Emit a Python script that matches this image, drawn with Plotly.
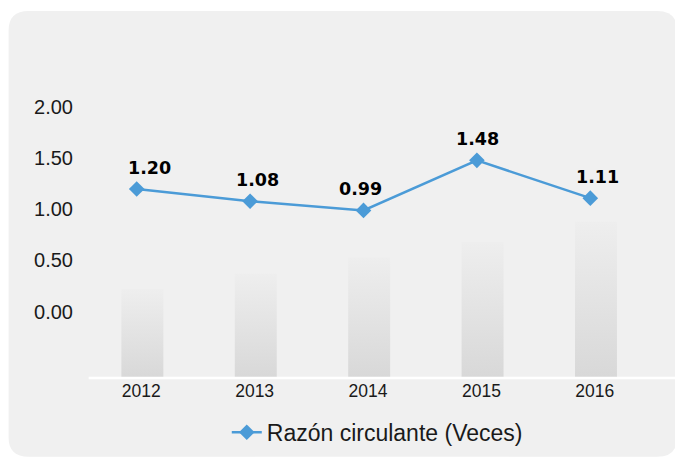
import plotly.graph_objects as go

# ---- data ----
years = ["2012", "2013", "2014", "2015", "2016"]
razon = [1.20, 1.08, 0.99, 1.48, 1.11]
label_text = ["1.20", "1.08", "0.99", "1.48", "1.11"]
deco_heights = [0.22, 0.37, 0.53, 0.68, 0.88]  # decorative faded columns
y_ticks = [0.0, 0.5, 1.0, 1.5, 2.0]
y_tick_text = ["0.00", "0.50", "1.00", "1.50", "2.00"]

# ---- geometry (page pixels) ----
W, H = 675, 466
L, R = 80.35, 646.85
T, B = 51.0, 385.5
YMIN, YMAX = -0.65, 2.55
XMIN, XMAX = -0.5, 4.5


def xp(px):
    return (px - L) / (R - L)


def yp(py):
    return (B - py) / (B - T)


xs = list(range(len(years)))
bar_off = 0.05
bar_w = 0.37
label_xshift = [13, 7, -3, 1, 7]

fig = go.Figure()

# decorative gradient columns
for i, h in zip(xs, deco_heights):
    c = i + bar_off
    fig.add_trace(go.Scatter(
        x=[c - bar_w / 2, c + bar_w / 2, c + bar_w / 2, c - bar_w / 2, c - bar_w / 2],
        y=[YMIN, YMIN, h, h, YMIN],
        mode="none", fill="toself",
        fillgradient=dict(type="vertical",
                          colorscale=[[0, "#d8d8d8"], [1, "#eeeeee"]]),
        hoverinfo="skip", showlegend=False,
    ))

# main line
fig.add_trace(go.Scatter(
    x=xs, y=razon, mode="lines+markers",
    name="Razón circulante (Veces)",
    line=dict(color="#4b9bd7", width=2.5),
    marker=dict(symbol="diamond", size=12, color="#4b9bd7"),
))

# data labels
for i, v, t, dx in zip(xs, razon, label_text, label_xshift):
    fig.add_annotation(
        x=i, y=v, text="<b>" + t + "</b>",
        showarrow=False, xshift=dx, yshift=21,
        font=dict(family="DejaVu Sans", size=17.5, color="#000000"),
    )

# rounded background panel
x0, x1, y0, y1, r = 9, 677, 10, 466, 20
path = (
    f"M {xp(x0 + r)} {yp(y0)} L {xp(x1 - r)} {yp(y0)} "
    f"Q {xp(x1)} {yp(y0)} {xp(x1)} {yp(y0 + r)} "
    f"L {xp(x1)} {yp(y1 - r)} Q {xp(x1)} {yp(y1)} {xp(x1 - r)} {yp(y1)} "
    f"L {xp(x0 + r)} {yp(y1)} Q {xp(x0)} {yp(y1)} {xp(x0)} {yp(y1 - r)} "
    f"L {xp(x0)} {yp(y0 + r)} Q {xp(x0)} {yp(y0)} {xp(x0 + r)} {yp(y0)} Z"
)
fig.add_shape(type="path", path=path, xref="paper", yref="paper",
              fillcolor="#f0f0f0", line=dict(width=0), layer="below")

# white x-axis baseline
fig.add_shape(type="line", xref="paper", yref="paper",
              x0=xp(89), x1=xp(690), y0=0, y1=0,
              line=dict(color="#ffffff", width=2.5), layer="above")

fig.update_layout(
    width=W, height=H,
    margin=dict(l=L, r=W - R, t=T, b=H - B, pad=0),
    paper_bgcolor="#ffffff",
    plot_bgcolor="rgba(0,0,0,0)",
    font=dict(family="Liberation Sans, Arial, sans-serif", color="#1a1a1a"),
    xaxis=dict(range=[XMIN, XMAX], tickmode="array",
               tickvals=[i + 0.04 for i in xs], ticktext=years,
               showgrid=False, zeroline=False, showline=False, ticks="",
               tickfont=dict(size=17.5, color="#1a1a1a"), fixedrange=True),
    yaxis=dict(range=[YMIN, YMAX], tickmode="array",
               tickvals=y_ticks, ticktext=y_tick_text,
               showgrid=False, zeroline=False, showline=False, ticks="",
               ticklabelstandoff=6,
               tickfont=dict(size=20, color="#1a1a1a"), fixedrange=True),
    legend=dict(orientation="h", x=xp(227), xanchor="left",
                y=yp(441), yanchor="middle",
                font=dict(size=23, color="#1a1a1a"),
                bgcolor="rgba(0,0,0,0)"),
    showlegend=True,
)

fig.write_html(
    "out.html",
    config={"displayModeBar": False},
    post_script="document.body.style.margin='0';document.body.style.overflow='hidden';",
)
